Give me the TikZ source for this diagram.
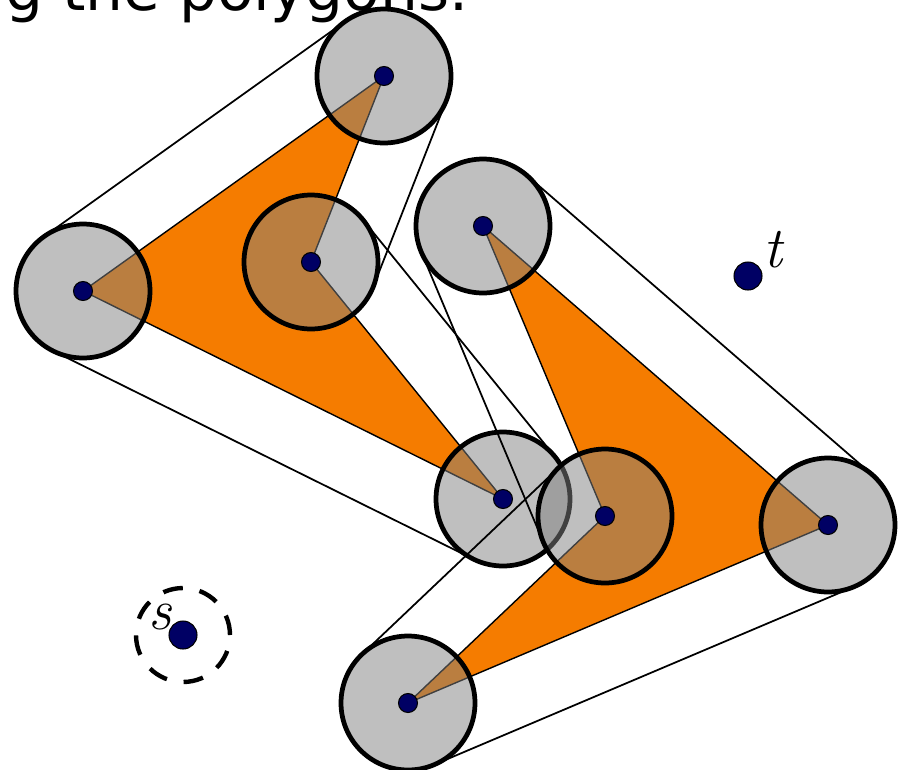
\documentclass[tikz,border=0pt]{standalone}
\usepackage{fontspec}
\newfontfamily\headfont{DejaVu Sans}
\usetikzlibrary{calc}
\definecolor{polyorange}{RGB}{245,124,0}
\definecolor{diskgray}{RGB}{128,128,128}
\definecolor{sitenavy}{RGB}{0,0,100}

\begin{document}
\begin{tikzpicture}[x=0.02cm,y=-0.02cm,
  disk/.style={circle,draw=black,line width=2.7pt,fill=diskgray,fill opacity=0.5,minimum size=2.68cm,inner sep=0pt},
  site/.style={circle,draw=black,line width=0.6pt,fill=sitenavy,minimum size=0.38cm,inner sep=0pt},
  ring/.style={circle,draw=black,line width=2.5pt,dash pattern=on 0.4cm off 0.34cm,minimum size=1.88cm,inner sep=0pt},
  poly/.style={fill=polyorange,draw=black,line width=0.8pt},
  hull/.style={line width=1pt},
  lab/.style={font=\fontsize{33}{36}\selectfont\itshape,inner sep=0pt}]
\clip (0,0) rectangle (906,769);
\node[anchor=base west,inner sep=0pt,font=\headfont\fontsize{34}{40}\selectfont] (title) at (5,10) {g the polygons.};
\coordinate (a1) at (384,76);
\coordinate (a2) at (83,291);
\coordinate (a3) at (503,499);
\coordinate (a4) at (311,262);
\coordinate (b1) at (483,226);
\coordinate (b2) at (828,525);
\coordinate (b3) at (408,703);
\coordinate (b4) at (605,516);
\coordinate (src) at (183,635);
\coordinate (dst) at (748,276);
\draw[poly] (a1) -- (a2) -- (a3) -- (a4) -- cycle;
\draw[poly] (b1) -- (b2) -- (b3) -- (b4) -- cycle;
\foreach \p in {a1,a2,a4,a3,b1,b2,b3,b4}
  \node[disk] (d\p) at (\p) {};
\foreach \u/\v in {a1/a2,a2/a3,a3/a4,a4/a1}
  \draw[hull] ($(\u)!1.34cm!-90:(\v)$) -- ($(\v)!1.34cm!90:(\u)$);
\foreach \u/\v in {b1/b2,b2/b3,b3/b4,b4/b1}
  \draw[hull] ($(\u)!1.34cm!90:(\v)$) -- ($(\v)!1.34cm!-90:(\u)$);
\foreach \p in {a1,a2,a3,a4,b1,b2,b3,b4}
  \node[site] (s\p) at (\p) {};
\foreach \p in {src,dst}
  \node[site,minimum size=0.56cm] (s\p) at (\p) {};
\node[ring] (srcring) at (src) {};
\node[lab] (srclab) at (160,617) {s};
\node[lab] (dstlab) at (773,250) {t};
\end{tikzpicture}
\end{document}
